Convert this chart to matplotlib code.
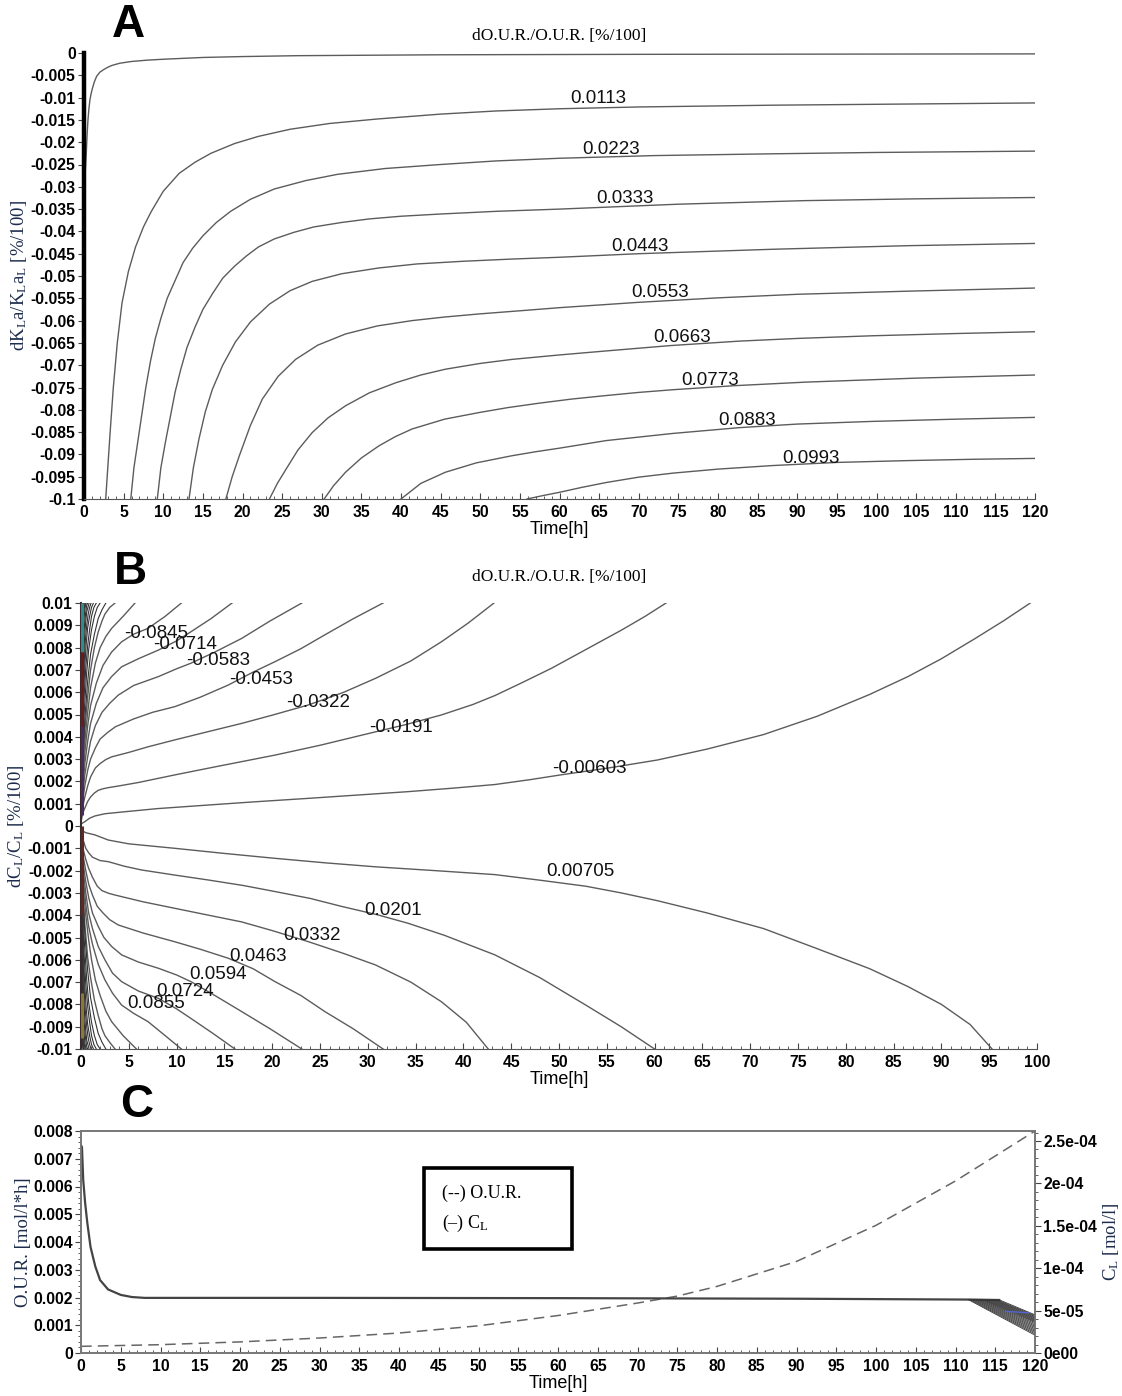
import matplotlib
matplotlib.use("Agg")
import matplotlib.pyplot as plt
from matplotlib.ticker import MultipleLocator
from matplotlib.patches import Rectangle

plt.rcParams['font.family'] = ['Liberation Sans', 'DejaVu Sans']
plt.rcParams['mathtext.fontset'] = 'custom'
plt.rcParams['mathtext.rm'] = 'Liberation Serif'
plt.rcParams['mathtext.it'] = 'Liberation Serif:italic'

# ---------------- Panel A data (time [h], dKLa/KLa) ----------------
A_levels = ["", "0.0113", "0.0223", "0.0333", "0.0443", "0.0553", "0.0663", "0.0773", "0.0883", "0.0993"]
A_t = [
    [0.03, 0.15, 0.3, 0.4, 0.5, 0.62, 0.75, 0.9, 1.05, 1.3, 1.6, 2.0, 2.5, 3.0, 3.5, 4.5, 6, 8, 10, 15, 20, 27, 45, 70, 120],
    [2.74, 3.0, 3.3, 3.7, 4.2, 4.8, 5.6, 6.5, 7.5, 8.5, 10, 12, 14, 16, 19, 22, 26, 31, 37, 45, 52, 60, 70, 87, 100, 120],
    [5.9, 6.3, 6.8, 7.3, 7.8, 8.4, 9.0, 9.7, 10.5, 11.5, 12.5, 13.7, 15, 16.7, 18.5, 21, 24, 28, 32, 38, 45, 52, 60, 72, 87, 100, 120],
    [9.25, 9.7, 10.3, 10.9, 11.5, 12.2, 13, 14, 15, 16.2, 17.5, 19, 20.5, 22, 24, 26.5, 29, 32.5, 36, 40, 45, 52, 60, 75, 91, 105, 120],
    [13.25, 13.8, 14.5, 15.3, 16.2, 17.5, 19.1, 21, 23.4, 26, 28.8, 32.5, 37.2, 42, 47.8, 54, 60, 70, 87, 104, 120],
    [17.9, 18.7, 19.6, 21, 22.5, 24.5, 26.7, 29.5, 33, 37, 41.4, 45.5, 49.9, 55, 60, 70, 80, 90, 104, 120],
    [23.4, 24.4, 25.5, 27, 28.8, 30.8, 33, 36, 39.4, 42.5, 45.6, 50, 54, 60, 65.9, 74, 82.7, 90, 99.5, 110, 120],
    [30.3, 31.5, 33, 35, 37.2, 39.3, 41.4, 45.5, 49.9, 53.5, 57.5, 61.5, 65.9, 70, 74.3, 82, 91, 105, 120],
    [40, 42.5, 45.6, 49.5, 54, 57, 60, 65.9, 74.3, 82.7, 90, 99.5, 110, 120],
    [55.9, 58, 60, 62.8, 65.9, 70, 74.3, 80, 86.9, 95, 103.7, 112, 120],
]
A_y = [
    [-0.031, -0.027, -0.022, -0.018, -0.015, -0.0125, -0.0105, -0.0091, -0.0080, -0.0065, -0.0052, -0.0043, -0.0037,
     -0.0032, -0.0028, -0.0023, -0.0019, -0.0016, -0.0014, -0.0010, -0.0008, -0.0006, -0.0004, -0.0003, -0.0002],
    [-0.1, -0.093, -0.085, -0.075, -0.065, -0.056, -0.049, -0.0435, -0.039, -0.0355, -0.031, -0.027, -0.0245, -0.0225,
     -0.0203, -0.0187, -0.0171, -0.0158, -0.0148, -0.0137, -0.0130, -0.0125, -0.0121, -0.0117, -0.0115, -0.0112],
    [-0.1, -0.093, -0.087, -0.081, -0.075, -0.069, -0.064, -0.0595, -0.055, -0.051, -0.047, -0.0438, -0.041, -0.038,
     -0.0355, -0.0328, -0.0305, -0.0286, -0.0272, -0.0259, -0.0250, -0.0242, -0.0236, -0.0230, -0.0226, -0.0223, -0.0220],
    [-0.1, -0.093, -0.087, -0.0815, -0.076, -0.071, -0.066, -0.0615, -0.0575, -0.054, -0.0505, -0.0478, -0.0455, -0.0435,
     -0.0417, -0.0402, -0.0390, -0.0380, -0.0372, -0.0366, -0.0361, -0.0355, -0.0350, -0.0339, -0.0331, -0.0327, -0.0324],
    [-0.1, -0.093, -0.0866, -0.0805, -0.0754, -0.0700, -0.0648, -0.0603, -0.0563, -0.0533, -0.0512, -0.0495, -0.0482,
     -0.0473, -0.0467, -0.0462, -0.0458, -0.0450, -0.0440, -0.0432, -0.0427],
    [-0.1, -0.095, -0.0903, -0.0835, -0.0776, -0.0725, -0.0687, -0.0655, -0.0630, -0.0612, -0.0600, -0.0592, -0.0585,
     -0.0578, -0.0571, -0.0559, -0.0549, -0.0541, -0.0534, -0.0527],
    [-0.1, -0.0965, -0.0933, -0.0890, -0.0851, -0.0818, -0.0791, -0.0762, -0.0739, -0.0722, -0.0709, -0.0696, -0.0687,
     -0.0677, -0.0668, -0.0656, -0.0646, -0.0640, -0.0634, -0.0629, -0.0625],
    [-0.1, -0.097, -0.094, -0.0908, -0.0881, -0.0860, -0.0843, -0.0821, -0.0806, -0.0795, -0.0785, -0.0776, -0.0768,
     -0.0761, -0.0755, -0.0746, -0.0738, -0.0729, -0.0722],
    [-0.1, -0.0965, -0.0940, -0.0919, -0.0903, -0.0894, -0.0886, -0.0869, -0.0853, -0.0840, -0.0832, -0.0826, -0.0821, -0.0817],
    [-0.1, -0.0992, -0.0985, -0.0974, -0.0963, -0.0951, -0.0942, -0.0933, -0.0925, -0.0918, -0.0914, -0.0911, -0.0909],
]
A_label_t = [None, 64.9, 66.5, 68.3, 70.2, 72.7, 75.5, 79.0, 83.7, 91.7]
A_label_y = [None, -0.0101, -0.0217, -0.0327, -0.0433, -0.0536, -0.0637, -0.0735, -0.0823, -0.0910]

# ---------------- Panel B data (time [h], dCL/CL) ----------------
B_levels = ["-0.00603", "-0.0191", "-0.0322", "-0.0453", "-0.0583", "-0.0714", "-0.0845", "", "",
            "0.00705", "0.0201", "0.0332", "0.0463", "0.0594", "0.0724", "0.0855", "", ""]
B_t = [
    [0.05, 0.42, 0.9, 1.46, 2.5, 4.6, 8, 13.3, 18, 23.8, 29, 34.2, 39, 43.3, 47, 50.3, 55, 60.3, 65.5, 71.4, 77, 82.5, 86.5, 90, 93.5, 96.5, 99.3],
    [0.05, 0.2, 0.4, 0.7, 1.0, 1.4, 1.8, 2.3, 2.86, 4, 6, 9.8, 14, 20.3, 25, 30.2, 34, 37.7, 41, 43.3, 46, 49.2, 52.5, 56.6, 59, 61.2],
    [0.05, 0.2, 0.4, 0.7, 1.0, 1.5, 2.0, 2.6, 3.2, 5, 7, 9.8, 13, 16.8, 20, 23.8, 27.5, 30.8, 34.5, 37.7, 40.5, 43.2],
    [0.05, 0.2, 0.4, 0.7, 1.0, 1.5, 2.0, 2.8, 3.6, 5.5, 7.5, 9.8, 12.5, 15.4, 18, 20.3, 23, 25.5, 28.5, 31.6],
    [0.05, 0.2, 0.4, 0.7, 1.0, 1.5, 2.2, 3.0, 3.9, 5.5, 8.1, 10, 11.5, 14, 16.8, 19.8, 23.1],
    [0.05, 0.2, 0.4, 0.7, 1.0, 1.6, 2.3, 3.2, 4.25, 6, 8.1, 10, 11.5, 13.6, 15.8],
    [0.05, 0.2, 0.4, 0.7, 1.0, 1.6, 2.3, 3.2, 4.25, 5.5, 7.0, 8.8, 10.5],
    [0.05, 0.2, 0.4, 0.7, 1.0, 1.5, 2.0, 2.6, 3.2, 4.4, 5.65],
    [0.05, 0.2, 0.4, 0.7, 1.0, 1.4, 1.8, 2.2, 2.5, 3.0, 3.56],
    [0.05, 0.5, 1.46, 2.86, 5, 9.8, 15, 20.3, 25.5, 30.8, 37, 43.3, 48, 52.8, 56.5, 60.3, 65.5, 71.4, 77, 82.5, 86.5, 90, 93, 95.3],
    [0.05, 0.2, 0.5, 0.8, 1.2, 2.0, 2.86, 4.5, 6.3, 9.8, 13.3, 17, 20.3, 24, 27.3, 31, 34.2, 38, 43.3, 48, 52.8, 56.5, 60],
    [0.05, 0.2, 0.5, 0.8, 1.2, 1.7, 2.2, 2.9, 3.6, 6.5, 9.8, 13, 16.8, 20, 23.8, 27.5, 30.8, 34.5, 37.7, 40.3, 42.6],
    [0.05, 0.2, 0.5, 0.8, 1.2, 1.7, 2.3, 3.0, 3.9, 6.5, 9.8, 12.5, 15.4, 18, 20.3, 23, 25.5, 28.5, 31.6],
    [0.05, 0.2, 0.5, 0.8, 1.2, 1.8, 2.4, 3.2, 4.25, 6, 8.1, 10, 11.5, 14, 16.8, 19.8, 23.1],
    [0.05, 0.2, 0.5, 0.8, 1.2, 1.8, 2.5, 3.3, 4.25, 6, 8.1, 10, 11.5, 13.8, 16.1],
    [0.05, 0.2, 0.5, 0.8, 1.2, 1.8, 2.5, 3.3, 4.25, 5.5, 7.0, 8.8, 10.5],
    [0.05, 0.2, 0.5, 0.8, 1.1, 1.5, 2.0, 2.6, 3.2, 4.4, 5.8],
    [0.05, 0.2, 0.4, 0.7, 1.0, 1.4, 1.8, 2.2, 2.5, 3.0, 3.56],
]
B_y = [
    [0.0001, 0.0002, 0.00035, 0.00045, 0.00055, 0.00064, 0.00078, 0.00094, 0.00108, 0.00124, 0.00139, 0.00154, 0.0017,
     0.00186, 0.00208, 0.0023, 0.00259, 0.00296, 0.00345, 0.0041, 0.00492, 0.0059, 0.0067, 0.0075, 0.0084, 0.0092, 0.01],
    [0.0003, 0.0006, 0.0008, 0.0011, 0.0013, 0.00148, 0.0016, 0.00167, 0.00172, 0.0018, 0.00195, 0.00229, 0.00265,
     0.00318, 0.00362, 0.00416, 0.00455, 0.00498, 0.00545, 0.00585, 0.0064, 0.00707, 0.00784, 0.0088, 0.0094, 0.01],
    [0.0005, 0.0009, 0.0013, 0.0018, 0.0022, 0.0026, 0.0028, 0.00298, 0.0031, 0.0033, 0.00355, 0.00386, 0.0042, 0.0046,
     0.00497, 0.00543, 0.0060, 0.00662, 0.0074, 0.00826, 0.0091, 0.01],
    [0.0007, 0.0012, 0.0018, 0.0025, 0.0030, 0.0035, 0.0039, 0.0042, 0.00445, 0.0048, 0.0051, 0.00535, 0.00578, 0.00632,
     0.0069, 0.00737, 0.00795, 0.00857, 0.0093, 0.01],
    [0.0009, 0.0015, 0.0023, 0.0031, 0.0038, 0.0045, 0.0051, 0.0055, 0.00587, 0.0063, 0.0067, 0.00705, 0.0073, 0.0078,
     0.00841, 0.0092, 0.01],
    [0.0011, 0.0018, 0.0028, 0.0038, 0.0046, 0.0055, 0.0062, 0.0067, 0.00714, 0.0075, 0.00789, 0.0083, 0.00871, 0.0093, 0.01],
    [0.0013, 0.0021, 0.0033, 0.0045, 0.0054, 0.0064, 0.0072, 0.0078, 0.00826, 0.0086, 0.00886, 0.0094, 0.01],
    [0.0015, 0.0025, 0.0038, 0.0051, 0.0062, 0.0073, 0.0080, 0.0085, 0.00886, 0.0094, 0.01],
    [0.0017, 0.0028, 0.0043, 0.0058, 0.0070, 0.0080, 0.0087, 0.0092, 0.0095, 0.0098, 0.01],
    [-0.0002, -0.0003, -0.0004, -0.00063, -0.0008, -0.0010, -0.00123, -0.00145, -0.00165, -0.00183, -0.0020, -0.00218,
     -0.00243, -0.0027, -0.0030, -0.00335, -0.0039, -0.0046, -0.0055, -0.0064, -0.0072, -0.0080, -0.0089, -0.01],
    [-0.0004, -0.0006, -0.0010, -0.0012, -0.0014, -0.00155, -0.0016, -0.0018, -0.00197, -0.0022, -0.00242, -0.00267,
     -0.00294, -0.00325, -0.00361, -0.00398, -0.00436, -0.0049, -0.00578, -0.0068, -0.00803, -0.0090, -0.01],
    [-0.0006, -0.0010, -0.0015, -0.0019, -0.0023, -0.0027, -0.0029, -0.00302, -0.0031, -0.0034, -0.00369, -0.00397,
     -0.0043, -0.00469, -0.00519, -0.00572, -0.00623, -0.0070, -0.00788, -0.0088, -0.01],
    [-0.0008, -0.0013, -0.0020, -0.0026, -0.0031, -0.0036, -0.0039, -0.0042, -0.00444, -0.0048, -0.00519, -0.00553,
     -0.00593, -0.0064, -0.00698, -0.0076, -0.00832, -0.0091, -0.01],
    [-0.0010, -0.0016, -0.0025, -0.0032, -0.0039, -0.0045, -0.0050, -0.0054, -0.00578, -0.0061, -0.00638, -0.00668,
     -0.00698, -0.0076, -0.00832, -0.0091, -0.01],
    [-0.0012, -0.0019, -0.0030, -0.0039, -0.0046, -0.0054, -0.0060, -0.0066, -0.00698, -0.0074, -0.00773, -0.0082,
     -0.00863, -0.0093, -0.01],
    [-0.0014, -0.0022, -0.0035, -0.0045, -0.0053, -0.0062, -0.0069, -0.0075, -0.00803, -0.0084, -0.00877, -0.0094, -0.01],
    [-0.0016, -0.0026, -0.0040, -0.0051, -0.0060, -0.0069, -0.0076, -0.0083, -0.00877, -0.0094, -0.01],
    [-0.0018, -0.0029, -0.0044, -0.0059, -0.0068, -0.0078, -0.0085, -0.0091, -0.0094, -0.0097, -0.01],
]
B_label_t = [53.2, 33.5, 24.8, 18.8, 14.3, 10.9, 7.9, None, None,
             52.2, 32.6, 24.2, 18.5, 14.3, 10.9, 7.9, None, None]
B_label_y = [0.0026, 0.0044, 0.00556, 0.00659, 0.0074, 0.00812, 0.00861, None, None,
             -0.00206, -0.00377, -0.00493, -0.00587, -0.00668, -0.0074, -0.00794, None, None]
# dense contours hugging the origin of the time axis (drawn for both signs)
B_dense_t = [
    [0.03, 0.2, 0.4, 0.7, 1.0, 1.4, 1.8, 2.2, 2.6], [0.03, 0.15, 0.35, 0.6, 0.8, 1.1, 1.4, 1.7, 2.0],
    [0.03, 0.12, 0.3, 0.5, 0.7, 0.9, 1.1, 1.35, 1.6], [0.03, 0.1, 0.25, 0.4, 0.55, 0.7, 0.9, 1.1, 1.3],
    [0.03, 0.09, 0.22, 0.33, 0.45, 0.6, 0.75, 0.9, 1.05], [0.03, 0.08, 0.18, 0.28, 0.38, 0.48, 0.6, 0.72, 0.85],
    [0.03, 0.07, 0.15, 0.22, 0.3, 0.4, 0.5, 0.6, 0.7], [0.03, 0.06, 0.12, 0.18, 0.25, 0.32, 0.4, 0.47, 0.55],
    [0.03, 0.05, 0.1, 0.15, 0.2, 0.26, 0.32, 0.38, 0.45], [0.03, 0.045, 0.08, 0.12, 0.16, 0.2, 0.25, 0.3, 0.35],
    [0.02, 0.035, 0.06, 0.09, 0.12, 0.16, 0.2, 0.23, 0.27], [0.02, 0.03, 0.05, 0.07, 0.09, 0.12, 0.15, 0.17, 0.2],
]
B_dense_y = [
    [0.0019, 0.0031, 0.0048, 0.0065, 0.0077, 0.0086, 0.0093, 0.0097, 0.01],
    [0.0021, 0.0032, 0.0052, 0.0069, 0.0079, 0.0088, 0.0094, 0.0098, 0.01],
    [0.0023, 0.0034, 0.0056, 0.0071, 0.0081, 0.0088, 0.0094, 0.0098, 0.01],
    [0.0025, 0.0036, 0.0058, 0.0072, 0.0082, 0.0089, 0.0094, 0.0098, 0.01],
    [0.0027, 0.0038, 0.0060, 0.0073, 0.0083, 0.0090, 0.0095, 0.0098, 0.01],
    [0.0030, 0.0041, 0.0063, 0.0076, 0.0085, 0.0091, 0.0096, 0.0098, 0.01],
    [0.0033, 0.0044, 0.0065, 0.0077, 0.0086, 0.0092, 0.0096, 0.0099, 0.01],
    [0.0036, 0.0047, 0.0068, 0.0080, 0.0088, 0.0093, 0.0097, 0.0099, 0.01],
    [0.0040, 0.0050, 0.0070, 0.0081, 0.0089, 0.0094, 0.0097, 0.0099, 0.01],
    [0.0045, 0.0054, 0.0073, 0.0083, 0.0090, 0.0094, 0.0097, 0.0099, 0.01],
    [0.0050, 0.0058, 0.0076, 0.0085, 0.0091, 0.0095, 0.0098, 0.0099, 0.01],
    [0.0056, 0.0063, 0.0079, 0.0087, 0.0092, 0.0096, 0.0098, 0.0099, 0.01],
]
# coloured artefact segments on the left axis of panel B (y ranges)
B_axis_seg = [(0.0078, 0.0100, '#2f8c8c'), (0.0045, 0.0078, '#6b1a1a'), (0.0005, 0.0045, '#4a2a5a'),
              (-0.0040, 0.0000, '#5a2a20'), (-0.0095, -0.0075, '#8a7a30')]

# ---------------- Panel C data ----------------
C_our_t = [0, 10, 20, 30, 40, 50, 60, 70, 75, 80, 90, 100, 110, 120]
C_our = [0.00024, 0.00030, 0.00040, 0.00054, 0.00072, 0.00098, 0.00135, 0.00180, 0.00205, 0.00240, 0.00330,
         0.00460, 0.00620, 0.00800]
C_cl_t = [0, 0.12, 0.28, 0.52, 0.8, 1.2, 1.8, 2.4, 3.4, 5, 6.4, 8, 30, 60, 90, 112, 115.5]
C_cl = [2.45e-4, 2.43e-4, 2.04e-4, 1.77e-4, 1.53e-4, 1.25e-4, 1.02e-4, 8.6e-5, 7.5e-5, 6.85e-5, 6.6e-5,
        6.5e-5, 6.5e-5, 6.47e-5, 6.4e-5, 6.3e-5, 6.25e-5]
C_fan_t0 = [111.6, 111.8, 112.0, 112.2, 112.4, 112.6, 112.8, 113.0, 113.2, 113.4,
            113.6, 113.8, 114.0, 114.2, 114.4, 114.6, 114.8, 115.0, 115.2, 115.5]
C_fan_y0 = [6.3e-5] * 10 + [6.27e-5] * 10
C_fan_end = [2.1e-5, 2.25e-5, 2.4e-5, 2.55e-5, 2.7e-5, 2.85e-5, 3.0e-5, 3.15e-5, 3.3e-5, 3.45e-5,
             3.6e-5, 3.7e-5, 3.8e-5, 3.9e-5, 4.0e-5, 4.1e-5, 4.2e-5, 4.3e-5, 4.4e-5, 4.5e-5]

W, H = 1122, 1396
fig = plt.figure(figsize=(W / 100, H / 100), dpi=100)

def box(l, r, t, b):
    return [l / W, 1 - b / H, (r - l) / W, (b - t) / H]

tickfont = dict(fontsize=11.3, fontweight='bold')
serif = 'Liberation Serif'
lblcol = '#1e2d4d'
linecol = '#5c5c5c'
clabsize = 13.5

def fmt(v):
    s = f"{v:.4g}"
    return "0" if s in ("0", "-0") else s

def style_axis(ax, xmax, ymin, ymax, ystep):
    ax.set_xlim(0, xmax)
    ax.set_ylim(ymin, ymax)
    xt = list(range(0, xmax + 1, 5))
    ax.set_xticks(xt)
    ax.set_xticklabels([str(v) for v in xt], **tickfont)
    n = int(round((ymax - ymin) / ystep))
    yt = [round(ymin + i * ystep, 6) for i in range(n + 1)]
    ax.set_yticks(yt)
    ax.set_yticklabels([fmt(v) for v in yt], **tickfont)
    ax.xaxis.set_minor_locator(MultipleLocator(1))
    ax.tick_params(axis='x', which='major', direction='in', length=4, pad=4, colors='#444', labelcolor='black')
    ax.tick_params(axis='x', which='minor', direction='in', length=2.5, colors='#444')
    ax.tick_params(axis='y', which='major', direction='out', length=4, pad=2, colors='#444', labelcolor='black')

# ---------------- Panel A ----------------
axA = fig.add_axes(box(84, 1035, 53, 499))
for t, y in zip(A_t, A_y):
    axA.plot(t, y, color=linecol, lw=1.0)
for lab, lt, ly in zip(A_levels, A_label_t, A_label_y):
    if lab:
        axA.text(lt, ly, lab, fontsize=clabsize, ha='center', va='center', color='#111')
style_axis(axA, 120, -0.1, 0.0, 0.005)
for s in ('top', 'right'):
    axA.spines[s].set_visible(False)
axA.spines['left'].set_linewidth(3.2)
axA.spines['left'].set_color('black')
axA.spines['bottom'].set_color('#555')
axA.set_title('dO.U.R./O.U.R. [%/100]', family=serif, fontsize=12.5, pad=9)
axA.set_xlabel('Time[h]', fontsize=13, labelpad=1)
axA.set_ylabel(r'dK$_\mathregular{L}$a/K$_\mathregular{L}$a$_\mathregular{ L}$ [%/100]',
               family=serif, fontsize=13.5, color=lblcol, labelpad=1)

# ---------------- Panel B ----------------
axB = fig.add_axes(box(81, 1037, 603, 1049))
for t, y in zip(B_t, B_y):
    axB.plot(t, y, color=linecol, lw=1.0)
for t, y in zip(B_dense_t, B_dense_y):
    axB.plot(t, y, color='#333', lw=0.8)
    axB.plot(t, [-v for v in y], color='#333', lw=0.8)
for y0, y1, c in B_axis_seg:
    axB.plot([0.08, 0.08], [y0, y1], color=c, lw=2.2, solid_capstyle='butt', zorder=5)
for lab, lt, ly in zip(B_levels, B_label_t, B_label_y):
    if lab:
        axB.text(lt, ly, lab, fontsize=clabsize, ha='center', va='center', color='#111')
style_axis(axB, 100, -0.01, 0.01, 0.001)
for s in ('top', 'right'):
    axB.spines[s].set_visible(False)
axB.spines['left'].set_linewidth(1.5)
axB.spines['left'].set_color('#3a2a30')
axB.spines['bottom'].set_color('#555')
axB.set_title('dO.U.R./O.U.R. [%/100]', family=serif, fontsize=12.5, pad=16)
axB.set_xlabel('Time[h]', fontsize=13, labelpad=1)
axB.set_ylabel(r'dC$_\mathregular{L}$/C$_\mathregular{L}$ [%/100]',
               family=serif, fontsize=13.5, color=lblcol, labelpad=1)

# ---------------- Panel C ----------------
axC = fig.add_axes(box(81, 1035, 1131, 1353))
axC.plot(C_our_t, C_our, color='#666', lw=1.1, ls=(0, (7, 4)))
style_axis(axC, 120, 0.0, 0.008, 0.001)
axC.yaxis.set_minor_locator(MultipleLocator(0.0002))
axC.tick_params(axis='y', which='minor', direction='out', length=2, colors='#444')
for s in axC.spines.values():
    s.set_color('#777')
    s.set_linewidth(1.2)
axC.set_xlabel('Time[h]', fontsize=13, labelpad=1)
axC.set_ylabel('O.U.R. [mol/l*h]', family=serif, fontsize=13.5, color=lblcol, labelpad=1)

axR = axC.twinx()
axR.set_ylim(0, 2.618e-4)
axR.plot(C_cl_t, C_cl, color='#444', lw=1.6)
for t0, y0, ye in zip(C_fan_t0, C_fan_y0, C_fan_end):
    axR.plot([t0, 120], [y0, ye], color='#333', lw=0.6)
axR.plot([116.3, 119.3], [4.9e-5, 4.75e-5], color='#5566dd', lw=0.9)
rt = [0, 5e-5, 1e-4, 1.5e-4, 2e-4, 2.5e-4]
axR.set_yticks(rt)
axR.set_yticklabels(['0e00', '5e-05', '1e-04', '1.5e-04', '2e-04', '2.5e-04'], **tickfont)
axR.yaxis.set_minor_locator(MultipleLocator(1e-5))
axR.tick_params(axis='y', which='major', direction='out', length=4, pad=2, colors='#444', labelcolor='black')
axR.tick_params(axis='y', which='minor', direction='out', length=2, colors='#444')
for s in axR.spines.values():
    s.set_color('#777')
    s.set_linewidth(1.2)
axR.set_ylabel(r'C$_\mathregular{L}$ [mol/l]', family=serif, fontsize=13.5, color=lblcol, labelpad=3)

# legend box drawn as in the original figure
fig.patches.append(Rectangle((424 / W, 1 - 1249 / H), 148 / W, 81 / H, transform=fig.transFigure,
                             fill=False, lw=2.6, ec='black'))
fig.text(442 / W, 1 - 1193 / H, '(--) O.U.R.', family=serif, fontsize=13, va='center', ha='left')
fig.text(442 / W, 1 - 1223 / H, r'(–) C$_\mathregular{L}$', family=serif, fontsize=13, va='center', ha='left')

# panel letters
fig.text(128 / W, 1 - 25 / H, 'A', fontsize=33, fontweight='bold', ha='center', va='center')
fig.text(130 / W, 1 - 572 / H, 'B', fontsize=33, fontweight='bold', ha='center', va='center')
fig.text(137 / W, 1 - 1105 / H, 'C', fontsize=33, fontweight='bold', ha='center', va='center')

fig.savefig('out.png', dpi=100)
